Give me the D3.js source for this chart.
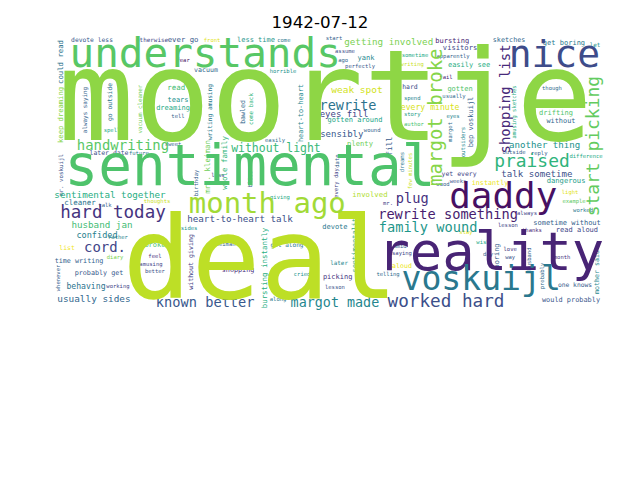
<!DOCTYPE html>
<html>
<head>
<meta charset="utf-8">
<script src="https://cdn.jsdelivr.net/npm/d3@7"></script>
<style>
  body { margin: 0; background: #fff; }
  svg { display: block; }
  .word { font-family: "DejaVu Sans Mono", monospace; }
  .title { font-family: "DejaVu Sans", sans-serif; font-size: 16.7px; }
</style>
</head>
<body>
<div id="vis"></div>
<script>
const FRAME_WIDTH = 640;
const FRAME_HEIGHT = 480;
const CLOUD_W = 400;   // word cloud canvas
const CLOUD_H = 200;

const TITLE = "1942-07-12";

// [word, x, y, size, vertical, tone]  (cloud canvas units, tone = viridis 0..1)
const largeWords = [
  ["moortje", 198, 50, 92, 0, 0.83],
  ["deal", 151, 167, 83, 0, 0.9],
  ["sentimental", 143.5, 97.8, 40.6, 0, 0.72],
  ["reality", 318, 160, 39, 0, 0.1],
  ["understands", 111, 16, 29.7, 0, 0.74],
  ["nice", 364, 16.7, 27.5, 0, 0.23],
  ["daddy", 327, 119, 26, 0, 0.04],
  ["voskuijl", 311, 179, 24, 0, 0.4],
  ["month ago", 156, 124, 21, 0, 0.86]
];

const phraseWords = [
  ["margot broke", 278.3, 61, 13.8, 1, 0.82],
  ["shopping list", 328.6, 47.8, 10.1, 1, 0.12],
  ["start picking", 392.8, 82, 13, 1, 0.76],
  ["praised", 347.8, 93.2, 13, 0, 0.65],
  ["worked hard", 285.5, 194.7, 12.8, 0, 0.24],
  ["hard today", 44.2, 130.3, 12.7, 0, 0.15],
  ["handwriting", 51.4, 81.7, 10.1, 0, 0.74],
  ["cord.", 38.4, 155.7, 10.1, 0, 0.2],
  ["known better", 111, 195.6, 9.9, 0, 0.27],
  ["margot made", 205, 195.7, 9.7, 0, 0.46],
  ["rewrite something", 287, 131.8, 9.9, 0, 0.08],
  ["family wound", 272.5, 141.2, 9.9, 0, 0.53],
  ["plug", 261, 120.3, 9.9, 0, 0.14],
  ["rewrite", 214.5, 53, 9.8, 0, 0.38],
  ["without light", 162.3, 83.7, 8.3, 0, 0.67],
  ["eyes fill", 211.6, 59, 6.5, 0, 0.2],
  ["sensibly", 210, 73.4, 6.5, 0, 0.27],
  ["weak spot", 221, 41.4, 6.9, 0, 0.93],
  ["getting involved", 244, 6.7, 6.7, 0, 0.8],
  ["another thing", 357, 81.4, 6.6, 0, 0.5],
  ["talk sometime", 351.4, 102.4, 6.6, 0, 0.24],
  ["sentimental together", 42, 117.5, 6.7, 0, 0.62],
  ["husband jan", 36.2, 139.1, 6.7, 0, 0.69],
  ["heart-to-heart talk", 136.2, 134.8, 6.7, 0, 0.24],
  ["usually sides", 30.4, 192.8, 6.8, 0, 0.33],
  ["confided", 32.6, 146.7, 6.2, 0, 0.43],
  ["behaving", 24.6, 183.8, 5.9, 0, 0.38],
  ["every minute", 274, 54.1, 5.9, 0, 0.94],
  ["gotten around", 219.6, 63, 5.1, 0, 0.58],
  ["plenty", 223.2, 80.3, 5.2, 0, 0.78],
  ["bursting", 290, 5.7, 5.1, 0, 0.1],
  ["visitors", 295.7, 10.7, 5.2, 0, 0.21],
  ["easily see", 302.2, 23.1, 5.1, 0, 0.62],
  ["sketches", 331.2, 5.1, 4.9, 0, 0.33],
  ["get boring", 371, 7.2, 5.1, 0, 0.4],
  ["drifting", 365.2, 58, 5.1, 0, 0.72],
  ["without", 368.8, 63.8, 5, 0, 0.33],
  ["dangerous", 372.5, 107.1, 5.2, 0, 0.55],
  ["yet every", 295, 102.2, 4.7, 0, 0.2],
  ["instantly", 317.4, 108.7, 4.9, 0, 0.97],
  ["involved", 230.4, 117.2, 5.3, 0, 0.88],
  ["sometime without", 373.2, 137.7, 5.1, 0, 0.3],
  ["read aloud", 380.4, 142.8, 5.1, 0, 0.21],
  ["one knows", 379, 182.6, 4.6, 0, 0.28],
  ["would probably", 376.1, 193.5, 5, 0, 0.27],
  ["mother said", 394.9, 173.2, 4.8, 1, 0.46],
  ["devote less", 29, 5.1, 4.6, 0, 0.27],
  ["could read", 6.5, 21, 5.3, 1, 0.38],
  ["keep dreaming", 6.5, 59.4, 5.2, 1, 0.82],
  ["always saying", 23.9, 55.8, 4.3, 1, 0.31],
  ["go outside", 42, 50, 4.6, 1, 0.38],
  ["vacuum cleaner", 63.8, 55.1, 4.2, 1, 0.78],
  ["writing amusing", 114.5, 57.2, 4.5, 1, 0.4],
  ["bawled", 138.4, 57.2, 4.8, 1, 0.33],
  ["come back", 144.2, 55.1, 4.3, 1, 0.66],
  ["heart-to-heart", 180.4, 58, 5, 1, 0.46],
  ["vacuum", 111.6, 26.8, 4.8, 0, 0.33],
  ["ever go", 95, 5.1, 5.3, 0, 0.27],
  ["less time", 147.8, 5.1, 5.1, 0, 0.53],
  ["read", 90, 39.9, 5.4, 0, 0.69],
  ["tears", 91.3, 48.6, 5.1, 0, 0.5],
  ["dreaming", 87.7, 54.3, 5.1, 0, 0.6],
  ["later date", 41.3, 87, 4.7, 0, 0.24],
  ["cleaner", 20.3, 123.2, 5.4, 0, 0.38],
  ["list", 10.9, 155.8, 4.7, 0, 0.98],
  ["time writing", 19.6, 165.2, 4.9, 0, 0.31],
  ["probably get", 34.1, 173.9, 4.9, 0, 0.27],
  ["without giving", 100.7, 165.9, 4.8, 1, 0.18],
  ["bursting instantly", 154.3, 170.3, 5.4, 1, 0.63],
  ["broke", 74.6, 153.6, 5.1, 0, 0.72],
  ["get along", 170.3, 153.6, 4.4, 0, 0.4],
  ["shopping", 134.8, 171.7, 4.9, 0, 0.12],
  ["devote", 205, 140.6, 5.1, 0, 0.4],
  ["sentimentality", 219.6, 152.2, 5.1, 1, 0.57],
  ["later", 208, 166.7, 4.3, 0, 0.46],
  ["picking", 207, 176.8, 5.1, 0, 0.15],
  ["aloud", 253.6, 168.8, 4.8, 0, 0.97],
  ["fill", 245, 82, 5.7, 1, 0.27],
  ["dreams", 253.6, 93.5, 4.1, 1, 0.4],
  ["gotten", 295.7, 40.6, 5.1, 0, 0.72],
  ["hard", 259.4, 39.1, 4.7, 0, 0.24],
  ["yank", 227.5, 18.1, 5.1, 0, 0.46],
  ["whole family", 125.4, 94.2, 5.4, 1, 0.66],
  ["mrs. kleiman", 113, 97.1, 5.4, 1, 0.78],
  ["bep voskuijl", 303.6, 64.5, 5.1, 1, 0.3],
  ["outsiders", 297.8, 79, 4.1, 1, 0.46],
  ["boring", 322.5, 161.6, 5, 1, 0.3],
  ["let", 393.5, 8.8, 4.3, 0, 0.5]
];

const smallWords = [
  ["start", 204.3, 3.6, 4, 0, 0.3], ["assume", 212.3, 13, 4, 0, 0.24],
  ["ago", 211, 19.6, 4, 0, 0.3], ["perfectly", 223.2, 24, 4, 0, 0.27],
  ["fear", 95, 19.6, 4, 0, 0.05], ["otherwise", 72.5, 5.1, 4.3, 0, 0.2],
  ["front", 116, 5.1, 4, 0, 0.95], ["come", 168, 5.1, 4, 0, 0.4],
  ["horrible", 167.4, 27.5, 4, 0, 0.5], ["tell", 91.3, 60.1, 4, 0, 0.3],
  ["spell", 43.5, 70.9, 4, 0, 0.6], ["future", 63, 87, 4, 0, 0.4],
  ["sweet", 87.7, 80.4, 4, 0, 0.3], ["easily", 161.6, 77.5, 4, 0, 0.35],
  ["wound", 232, 70.9, 4, 0, 0.3], ["date", 206.5, 92.8, 4, 1, 0.3],
  ["outside", 334.8, 86.2, 4, 0, 0.3], ["reply", 353, 87, 4, 0, 0.3],
  ["difference", 387, 89.1, 4, 0, 0.6], ["light", 375.4, 115.2, 4, 0, 0.95],
  ["example", 378.3, 121.7, 4, 0, 0.75], ["worked", 384.8, 128.3, 4, 0, 0.4],
  ["always", 344.2, 130.4, 4, 0, 0.2], ["thanks", 347.8, 142.8, 4, 0, 0.1],
  ["husband", 345.7, 163.8, 4, 1, 0.3], ["month", 369.6, 162.3, 4, 0, 0.15],
  ["probably", 355.1, 176.1, 4, 1, 0.35], ["lesson", 330.4, 139.1, 4, 0, 0.2],
  ["love", 332, 156.5, 4, 0, 0.15], ["way", 332, 162.3, 4, 0, 0.25],
  ["stay", 300, 144.2, 4, 0, 0.95], ["wish", 312.3, 151.4, 4, 0, 0.6],
  ["day", 316, 160.1, 4, 0, 0.3], ["saying", 253.6, 159.4, 4, 0, 0.2],
  ["amid", 252.2, 154.3, 4, 0, 0.3], ["telling", 243.5, 174.6, 4, 0, 0.35],
  ["lesson", 205, 184.1, 4, 0, 0.25], ["cried", 181.2, 174.6, 4, 0, 0.5],
  ["along", 163.8, 192.8, 4, 0, 0.4], ["kleiman", 124.6, 152.9, 4, 0, 0.3],
  ["feel", 74.6, 161.6, 4, 0, 0.15], ["amusing", 71.7, 167.4, 4, 0, 0.2],
  ["better", 74.6, 172.5, 4, 0, 0.25], ["diary", 45.7, 162.3, 4, 0, 0.8],
  ["working", 47.8, 183.3, 4, 0, 0.2], ["rather", 47.8, 147.8, 4, 0, 0.45],
  ["talk", 38.4, 124.6, 4, 0, 0.3], ["thoughts", 76.1, 121.7, 4, 0, 0.92],
  ["giving", 165.2, 118.8, 4, 0, 0.6], ["sides", 99.3, 141.3, 4, 0, 0.5],
  ["less", 120.3, 102.9, 4, 0, 0.2], ["birthday", 104.3, 108.7, 4, 1, 0.3],
  ["bliss", 143.5, 105.8, 4, 1, 0.3], ["every day", 205.8, 108.7, 4, 1, 0.2],
  ["wood", 283.3, 109.4, 4, 0, 0.3], ["mr.", 243.5, 123.2, 4, 0, 0.2],
  ["whenever", 4.3, 177.5, 4, 1, 0.3], ["mr. voskuijl", 6.5, 102.9, 4.2, 1, 0.25],
  ["margot", 288.4, 71.7, 4, 1, 0.35], ["amusing sketches", 334.8, 57.2, 4, 1, 0.62],
  ["though", 362.3, 40.1, 4, 0, 0.35], ["apparently", 290.6, 16.7, 4, 0, 0.3],
  ["sometime", 263, 15.9, 4, 0, 0.6], ["writing", 261, 22.5, 4, 0, 0.92],
  ["fail", 285.5, 32, 4, 0, 0.1], ["spend", 261, 47, 4, 0, 0.45],
  ["usually", 291.3, 45.7, 4, 0, 0.35], ["story", 261, 58.8, 4, 0, 0.55],
  ["eyes", 290.6, 60.2, 4, 0, 0.45], ["author", 262.3, 65.9, 4, 0, 0.7],
  ["few minutes", 259.4, 100, 4, 1, 0.92], ["weeks", 294.2, 107.5, 4, 0, 0.25]
];

const svg = d3.select("#vis")
  .append("svg")
    .attr("width", FRAME_WIDTH)
    .attr("height", FRAME_HEIGHT);

svg.append("rect")
    .attr("width", FRAME_WIDTH)
    .attr("height", FRAME_HEIGHT)
    .attr("fill", "#fff");

// cloud image placement on the figure
const xScale = d3.scaleLinear().domain([0, CLOUD_W]).range([52, 604]);
const yScale = d3.scaleLinear().domain([0, CLOUD_H]).range([33, 309]);
const sizeScale = d3.scaleLinear().domain([0, CLOUD_W]).range([0, 552]);

svg.append("text")
    .attr("class", "title")
    .attr("x", FRAME_WIDTH / 2)
    .attr("y", 28)
    .attr("text-anchor", "middle")
    .attr("fill", "#000")
    .text(TITLE);

const allWords = [...smallWords, ...phraseWords, ...largeWords];

svg.append("g")
  .selectAll("text")
  .data(allWords)
  .enter()
  .append("text")
    .attr("class", "word")
    .attr("transform", (d) => {
      return "translate(" + xScale(d[1]) + "," + yScale(d[2]) + ")" + (d[4] ? " rotate(-90)" : "");
    })
    .attr("text-anchor", "middle")
    .attr("dy", "0.3em")
    .attr("font-size", (d) => sizeScale(d[3]) + "px")
    .attr("fill", (d) => d3.interpolateViridis(d[5]))
    .text((d) => d[0]);
</script>
</body>
</html>
